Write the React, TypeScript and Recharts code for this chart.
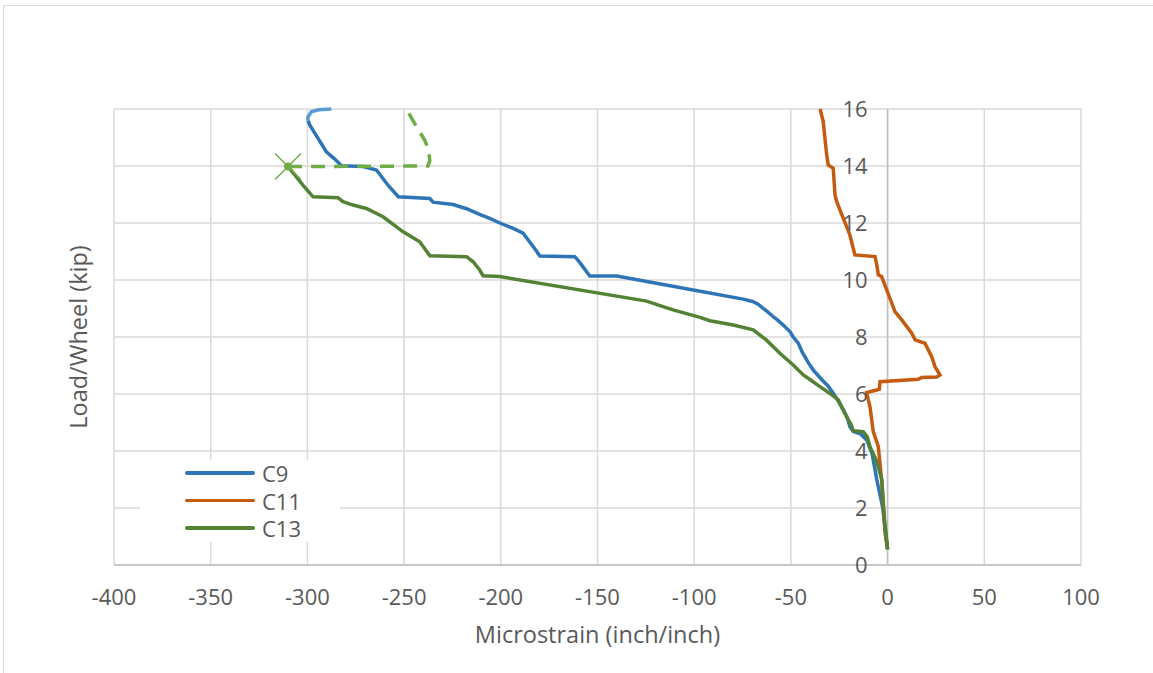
import {
  ComposedChart,
  Line,
  Scatter,
  XAxis,
  YAxis,
  CartesianGrid,
  ReferenceLine,
} from 'recharts'

// Microstrain (x) vs Load/Wheel (y) for each gauge, in drawing order
const c9 = [
  [0, 0.55], [-2.5, 2.0], [-5.6, 3.0], [-8, 3.9], [-10.8, 4.39], [-14, 4.6], [-17.7, 4.68],
  [-19.5, 4.85], [-21, 5.2], [-22.9, 5.44], [-25.5, 5.75], [-28, 6.02], [-31, 6.3], [-34, 6.5],
  [-38.4, 6.84], [-41, 7.1], [-44, 7.45], [-46.2, 7.78], [-48.8, 8.0], [-50.5, 8.19], [-54, 8.42],
  [-57, 8.6], [-59.1, 8.71], [-62, 8.88], [-64.3, 9.0], [-67, 9.15], [-69.5, 9.24], [-72, 9.28],
  [-74, 9.32], [-100.5, 9.65], [-140, 10.14], [-154, 10.14], [-159, 10.6], [-161.7, 10.82],
  [-179.8, 10.84], [-182.4, 11.1], [-188.5, 11.64], [-193.6, 11.81], [-200.5, 12.0], [-205.7, 12.16],
  [-211, 12.3], [-217.7, 12.5], [-224.7, 12.65], [-235, 12.73], [-236.7, 12.86], [-253, 12.92],
  [-258, 13.3], [-264.3, 13.86], [-271.2, 13.98], [-282.4, 14.01], [-286, 14.25], [-290.2, 14.5],
  [-294.5, 14.97], [-298.8, 15.44], [-299.7, 15.6],
]
const c9Top = [[-299.7, 15.6], [-299.7, 15.72], [-298, 15.9], [-294, 15.97], [-287.6, 16.0]]

const c11 = [
  [0, 0.55], [-1.3, 1.11], [-3.1, 2.98], [-4.8, 4.15], [-7.4, 4.68], [-9.1, 5.55], [-10, 5.8],
  [-10.8, 6.05], [-5.6, 6.14], [-4.3, 6.16], [-3.9, 6.43], [15.9, 6.52], [17.6, 6.58], [25.4, 6.6],
  [27.1, 6.67], [24.5, 6.96], [22.8, 7.31], [19.3, 7.78], [14.2, 7.9], [12.5, 8.13], [7.3, 8.6],
  [3.8, 8.89], [1.2, 9.36], [-3.1, 10.12], [-4.8, 10.18], [-5.6, 10.53], [-6.5, 10.82],
  [-16.9, 10.88], [-19.5, 11.58], [-22.9, 12.16], [-26.3, 12.75], [-27.2, 12.98], [-28.1, 13.92],
  [-30.7, 14.04], [-31.5, 14.39], [-33.3, 15.56], [-34.9, 16.0],
]

const c13 = [
  [0, 0.55], [-1.5, 1.5], [-3, 3.0], [-6, 3.7], [-9.1, 4.15], [-10.5, 4.5], [-12.6, 4.68],
  [-17.7, 4.71], [-19, 4.95], [-21.2, 5.2], [-25.5, 5.79], [-29.8, 6.02], [-35, 6.26], [-40, 6.5],
  [-43.6, 6.67], [-48.8, 7.02], [-55.7, 7.43], [-62.6, 7.89], [-69.5, 8.25], [-79.8, 8.42],
  [-91.9, 8.57], [-97, 8.69], [-104, 8.82], [-110.9, 8.95], [-117.7, 9.1], [-124.6, 9.26],
  [-200.5, 10.12], [-209.2, 10.15], [-210.9, 10.35], [-214.3, 10.64], [-217.7, 10.82],
  [-236.7, 10.85], [-241.9, 11.34], [-250.5, 11.69], [-260.9, 12.22], [-269.5, 12.51],
  [-276.4, 12.63], [-281.6, 12.75], [-284.2, 12.89], [-297.1, 12.92], [-302.3, 13.33],
  [-305.7, 13.62], [-310, 13.98],
]
// projected part after the gauge failed
const c13Dashed = [
  [-310, 13.98], [-237.6, 14.0], [-236.7, 14.2], [-237.5, 14.6], [-239.3, 14.9], [-243.6, 15.38],
  [-248, 15.9],
]
const c13Fail = [[-310, 13.98]]

const xTicks = [-400, -350, -300, -250, -200, -150, -100, -50, 0, 50, 100]
const yTicks = [0, 2, 4, 6, 8, 10, 12, 14, 16]

const legendItems = [
  { name: 'C9', color: '#2E75B6' },
  { name: 'C11', color: '#C55A11' },
  { name: 'C13', color: '#548235' },
]

const toPts = (arr: number[][]) => arr.map(([x, y]) => ({ x, y }))

const W = 1153
const H = 673
const M = { top: 109, right: 72, bottom: 28, left: 0 }
const Y_AXIS_W = 114
const PLOT_W = W - M.right - Y_AXIS_W
const ZERO_X = Y_AXIS_W + PLOT_W * (400 / 500)
const FONT = '"Open Sans", sans-serif'
const TEXT = '#595959'

const YTick = ({ y, payload }: any) => (
  <text x={ZERO_X - 20} y={y} dy="0.35em" textAnchor="end" fill={TEXT} fontSize={22} fontFamily={FONT}>
    {payload.value}
  </text>
)

const FailMark = ({ cx, cy }: any) => (
  <g stroke="#70AD47" strokeWidth={1.5}>
    <line x1={cx - 13} y1={cy - 13} x2={cx + 13} y2={cy + 13} />
    <line x1={cx - 13} y1={cy + 13} x2={cx + 13} y2={cy - 13} />
    <circle cx={cx} cy={cy} r={4} fill="#70AD47" stroke="none" />
  </g>
)

const LegendBox = () => (
  <div style={{ position: 'absolute', left: 140, top: 460, width: 200, height: 82, background: '#fff', fontFamily: FONT, fontSize: 22, color: TEXT }}>
    {legendItems.map((it, i) => (
      <div key={it.name} style={{ position: 'absolute', top: 13 + i * 27.5 - 14, left: 45, height: 28, display: 'flex', alignItems: 'center' }}>
        <div style={{ width: 70, height: 3.5, borderRadius: 2, background: it.color }} />
        <span style={{ marginLeft: 7, lineHeight: '28px' }}>{it.name}</span>
      </div>
    ))}
  </div>
)

export default function App() {
  return (
    <div style={{ position: 'absolute', left: 0, top: 0, width: W, height: H, background: '#fff', overflow: 'hidden' }}>
      <div style={{ position: 'absolute', left: 3, top: 5, width: W + 20, height: H + 20, border: '1px solid #d9d9d9' }} />
      <ComposedChart width={W} height={H} margin={M}>
        <CartesianGrid stroke="#d9d9d9" strokeWidth={1.5} />
        <XAxis
          type="number"
          dataKey="x"
          domain={[-400, 100]}
          ticks={xTicks}
          allowDataOverflow
          height={80}
          tickLine={false}
          tickMargin={18}
          axisLine={{ stroke: '#bfbfbf', strokeWidth: 1.5 }}
          tick={{ fill: TEXT, fontSize: 22, fontFamily: FONT }}
          label={{ value: 'Microstrain (inch/inch)', position: 'insideBottom', offset: 2, fill: TEXT, fontSize: 23.5, fontFamily: FONT }}
        />
        <YAxis
          type="number"
          dataKey="y"
          domain={[0, 16]}
          ticks={yTicks}
          width={Y_AXIS_W}
          axisLine={false}
          tickLine={false}
          tick={<YTick />}
          label={{
            value: 'Load/Wheel (kip)',
            angle: -90,
            position: 'insideLeft',
            offset: 79,
            style: { textAnchor: 'middle' },
            fill: TEXT,
            fontSize: 23.5,
            fontFamily: FONT,
          }}
        />
        <ReferenceLine x={0} stroke="#bfbfbf" strokeWidth={1.5} />
        <Line data={toPts(c9)} dataKey="y" name="C9" stroke="#2E75B6" strokeWidth={3.5} dot={false} isAnimationActive={false} />
        <Line data={toPts(c9Top)} dataKey="y" name="C9 top" stroke="#5B9BD5" strokeWidth={3.5} dot={false} isAnimationActive={false} />
        <Line data={toPts(c11)} dataKey="y" name="C11" stroke="#C55A11" strokeWidth={3.5} dot={false} isAnimationActive={false} />
        <Line data={toPts(c13)} dataKey="y" name="C13" stroke="#548235" strokeWidth={3.5} dot={false} isAnimationActive={false} />
        <Line data={toPts(c13Dashed)} dataKey="y" name="C13 proj" stroke="#70AD47" strokeWidth={3.5} strokeDasharray="14 9" dot={false} isAnimationActive={false} />
        <Scatter data={toPts(c13Fail)} dataKey="y" name="C13 fail" shape={<FailMark />} isAnimationActive={false} />
      </ComposedChart>
      <LegendBox />
    </div>
  )
}
